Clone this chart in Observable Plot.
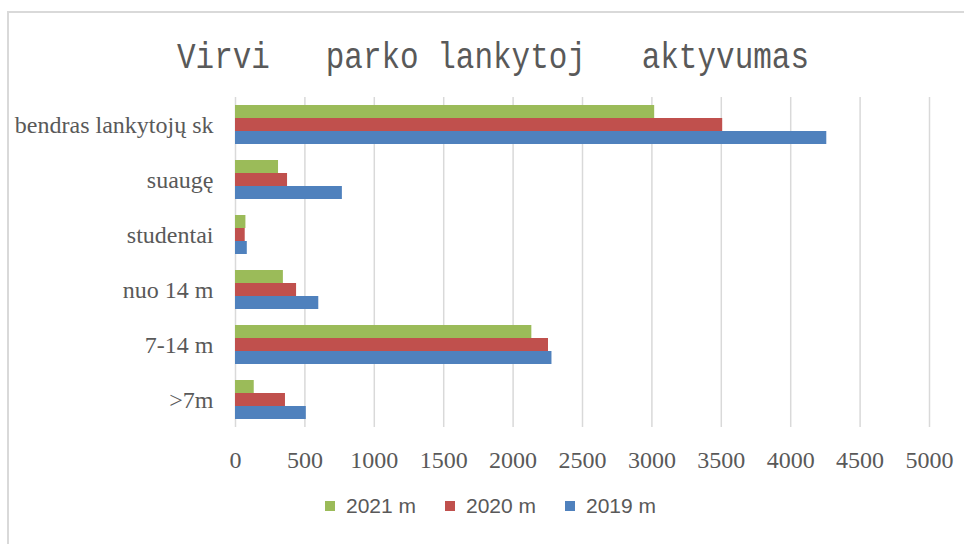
<!DOCTYPE html>
<html>
<head>
<meta charset="utf-8">
<script src="https://cdn.jsdelivr.net/npm/d3@7"></script>
<script src="https://cdn.jsdelivr.net/npm/@observablehq/plot@0.6"></script>
<style>
  html, body { margin: 0; padding: 0; background: #fff; }
  #wrap { position: relative; width: 964px; height: 544px; overflow: hidden; }
  #border { position: absolute; left: 7px; top: 11px; width: 980px; height: 560px; border: 2px solid #d9d9d9; box-sizing: border-box; }
  #title { position: absolute; left: 0; top: 0; }
  #chart { position: absolute; left: 0; top: 0; }
  #legend { position: absolute; left: 325px; top: 494px; display: flex; font-family: "Liberation Sans", Arial, sans-serif; font-size: 21px; color: #595959; }
  .item { display: flex; align-items: center; width: 120px; }
  .sw { width: 10px; height: 10px; margin-right: 11px; }
</style>
</head>
<body>
<div id="wrap">
  <div id="border"></div>
  <div id="chart"></div>
  <div id="title"></div>
  <div id="legend"></div>
</div>
<script>
const titleText = "Virvi   parko lankytoj   aktyvumas";
const categories = ["bendras lankytojų sk", "suaugę", "studentai", "nuo 14 m", "7-14 m", ">7m"];
const series = ["2021 m", "2020 m", "2019 m"];
const colors = ["#9BBB59", "#C0504D", "#4F81BD"];
const v2021 = [3020, 310, 75, 345, 2135, 135];
const v2020 = [3510, 375, 70, 440, 2255, 360];
const v2019 = [4260, 770, 85, 600, 2280, 510];
const xTicks = [0, 500, 1000, 1500, 2000, 2500, 3000, 3500, 4000, 4500, 5000];

const valuesBySeries = [v2021, v2020, v2019];
const data = [];
categories.forEach((c, i) => {
  series.forEach((s, j) => data.push({category: c, series: s, value: valuesBySeries[j][i]}));
});

const plot = Plot.plot({
  width: 964,
  height: 544,
  marginLeft: 235,
  marginRight: 35,
  marginTop: 95,
  marginBottom: 116,
  style: {fontFamily: "'Liberation Serif', 'Times New Roman', serif", fontSize: "24px", color: "#595959", background: "transparent"},
  x: {domain: [0, 5000], ticks: xTicks, tickFormat: d => String(d), tickSize: 0, tickPadding: 23, label: null},
  fy: {domain: categories, axis: "left", label: null, tickSize: 0, tickPadding: 22, padding: 0},
  y: {domain: series, axis: null, paddingInner: 0, paddingOuter: 0.5},
  color: {domain: series, range: colors},
  marks: [
    Plot.gridX(xTicks, {stroke: "#d9d9d9", strokeOpacity: 1, strokeWidth: 1.5}),
    Plot.barX(data, {fy: "category", y: "series", x: "value", fill: "series"})
  ]
});
document.getElementById("chart").appendChild(plot);

// Title
const tsvg = d3.select("#title").append("svg").attr("width", 964).attr("height", 90);
tsvg.append("text")
  .attr("x", 177).attr("y", 68)
  .attr("textLength", 632)
  .attr("lengthAdjust", "spacingAndGlyphs")
  .attr("fill", "#595959")
  .style("font-family", "'Liberation Mono', monospace")
  .style("font-size", "37px")
  .style("white-space", "pre")
  .attr("xml:space", "preserve")
  .text(titleText);

// Legend
const leg = d3.select("#legend");
series.forEach((s, i) => {
  const it = leg.append("div").attr("class", "item");
  it.append("div").attr("class", "sw").style("background", colors[i]);
  it.append("span").text(s);
});
</script>
</body>
</html>
